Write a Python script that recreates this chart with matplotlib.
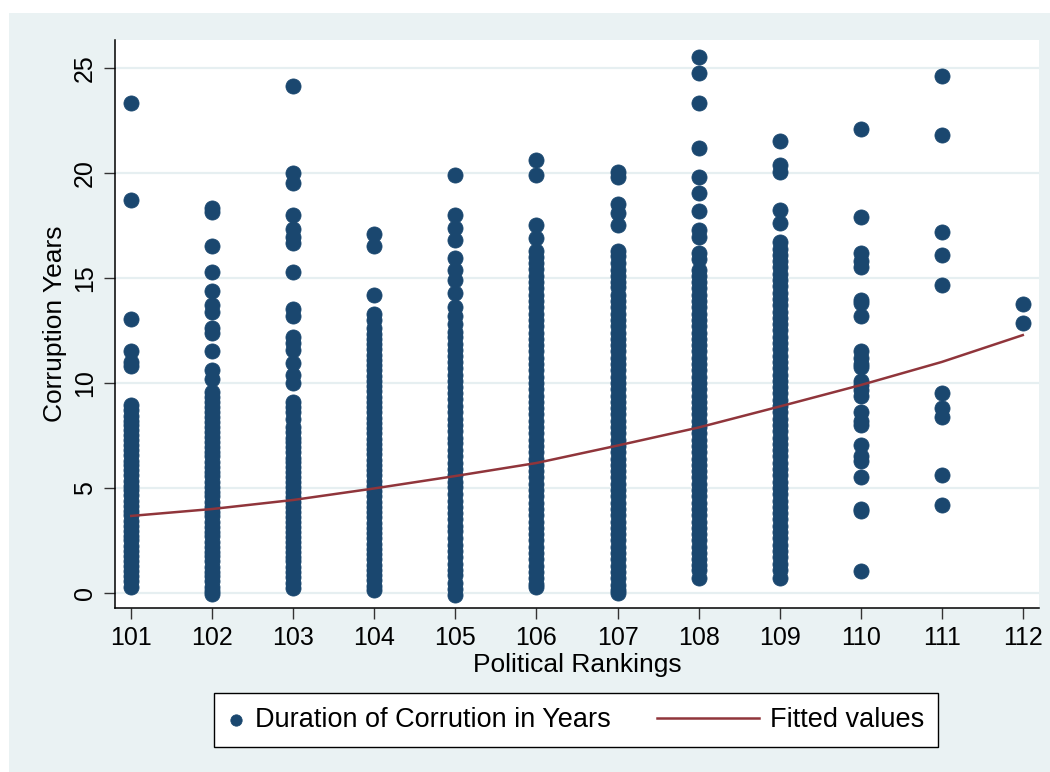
import numpy as np
import matplotlib.pyplot as plt
from matplotlib.patches import Rectangle
from matplotlib.legend_handler import HandlerPathCollection, HandlerLine2D

plt.rcParams['font.family'] = ['Liberation Sans', 'DejaVu Sans']

#---------------------------------------------
# corruption duration by political ranking
#---------------------------------------------
rankings = [101, 102, 103, 104, 105, 106, 107, 108, 109, 110, 111, 112]

years_101 = [23.35, 18.7, 13.05, 11.5, 11.0, 10.8,
             8.95, 8.7, 8.45, 8.2, 8.0, 7.75, 7.5, 7.3, 7.05, 6.8, 6.55, 6.3, 6.1, 5.85,
             5.6, 5.35, 5.1, 4.9, 4.65, 4.4, 4.15, 3.9, 3.7, 3.45, 3.2, 2.95, 2.7, 2.5,
             2.25, 2.0, 1.75, 1.5, 1.3, 1.05, 0.8, 0.55, 0.29]
years_102 = [18.33, 18.14, 16.5, 15.3, 14.4, 13.7, 13.4, 12.6, 12.4, 11.5, 10.6, 10.2,
             9.57, 9.35, 9.1, 8.85, 8.6, 8.4, 8.15, 7.9, 7.65, 7.45, 7.2, 6.95, 6.7, 6.5,
             6.25, 6.0, 5.75, 5.55, 5.3, 5.05, 4.8, 4.6, 4.35, 4.1, 3.85, 3.65, 3.4, 3.15,
             2.9, 2.7, 2.45, 2.2, 1.95, 1.75, 1.5, 1.25, 1.0, 0.8, 0.55, 0.3, 0.1, -0.05]
years_103 = [24.14, 20.0, 19.5, 18.0, 17.33, 16.95, 16.67, 15.3, 13.5, 13.2, 12.2, 11.9,
             11.57, 10.95, 10.4, 10.0,
             9.1, 8.85, 8.6, 8.3, 7.9, 7.65, 7.4, 7.2, 6.95, 6.7, 6.45, 6.25, 6.0, 5.75,
             5.5, 5.3, 5.05, 4.8, 4.55, 4.35, 4.1, 3.85, 3.6, 3.4, 3.15, 2.9, 2.65, 2.45,
             2.2, 1.95, 1.7, 1.5, 1.25, 1.0, 0.75, 0.5, 0.24]
years_104 = [17.1, 16.5, 14.2,
             13.3, 13.0, 12.6, 12.35, 12.1, 11.85, 11.6, 11.35, 11.1, 10.85, 10.6, 10.35,
             10.1, 9.85, 9.6, 9.35, 9.1, 8.85, 8.6, 8.35, 8.1, 7.85, 7.6, 7.35, 7.1, 6.85,
             6.6, 6.35, 6.1, 5.85, 5.6, 5.35, 5.1, 4.85, 4.6, 4.35, 4.1, 3.85, 3.6, 3.35,
             3.1, 2.85, 2.6, 2.35, 2.1, 1.85, 1.6, 1.35, 1.1, 0.85, 0.6, 0.35, 0.14]
years_105 = [19.9, 18.0, 17.4, 16.8, 15.95, 15.4, 14.9, 14.3, 13.6, 13.2, 12.8,
             12.45, 12.2, 11.85, 11.55, 11.3, 11.0, 10.7, 10.4, 10.1, 9.8, 9.5, 9.25,
             8.9, 8.6, 8.3, 8.0, 7.7, 7.4, 7.15, 6.8, 6.5, 6.2, 5.9, 5.6, 5.3, 5.05, 4.7,
             4.4, 4.1, 3.8, 3.5, 3.2, 2.95, 2.6, 2.3, 2.0, 1.7, 1.4, 1.1, 0.85, 0.5, 0.2,
             -0.1]
years_106 = [20.6, 19.9, 17.5, 16.9,
             16.3, 16.0, 15.7, 15.45, 15.1, 14.8, 14.5, 14.2, 13.9, 13.6, 13.3, 13.0,
             12.7, 12.4, 12.1, 11.8, 11.5, 11.2, 10.9, 10.6, 10.3, 10.0, 9.7, 9.4, 9.1,
             8.8, 8.5, 8.2, 7.9, 7.6, 7.3, 7.0, 6.7, 6.4, 6.1, 5.8, 5.5, 5.2, 4.9, 4.6,
             4.3, 4.0, 3.7, 3.4, 3.1, 2.8, 2.5, 2.2, 1.9, 1.6, 1.3, 1.0, 0.7, 0.45, 0.29]
years_107 = [20.05, 19.8, 18.5, 18.1, 17.5,
             16.3, 16.05, 15.7, 15.4, 15.1, 14.8, 14.55, 14.2, 13.9, 13.6, 13.3, 13.0,
             12.7, 12.4, 12.1, 11.8, 11.5, 11.2, 10.9, 10.6, 10.3, 10.0, 9.7, 9.4, 9.1,
             8.8, 8.5, 8.2, 7.9, 7.6, 7.3, 7.0, 6.7, 6.4, 6.1, 5.8, 5.5, 5.2, 4.9, 4.6,
             4.3, 4.0, 3.7, 3.4, 3.1, 2.8, 2.5, 2.2, 1.9, 1.6, 1.3, 1.0, 0.7, 0.4, 0.15,
             0.0]
years_108 = [25.5, 24.76, 23.33, 21.2, 19.8, 19.05, 18.2, 17.3, 16.95, 16.2, 15.9,
             15.4, 15.1, 14.8, 14.5, 14.2, 13.9, 13.6, 13.3, 13.0, 12.7, 12.4, 12.1,
             11.8, 11.5, 11.2, 10.9, 10.6, 10.3, 10.0, 9.7, 9.4, 9.1, 8.8, 8.5, 8.2, 7.9,
             7.6, 7.3, 7.0, 6.7, 6.4, 6.1, 5.8, 5.5, 5.2, 4.9, 4.6, 4.3, 4.0, 3.7, 3.4,
             3.1, 2.8, 2.5, 2.2, 1.9, 1.6, 1.35, 1.1, 0.7]
years_109 = [21.5, 20.4, 20.05, 18.25, 17.6,
             16.7, 16.4, 16.1, 15.8, 15.5, 15.2, 14.9, 14.6, 14.3, 14.0, 13.7, 13.4,
             13.1, 12.8, 12.5, 12.2, 11.9, 11.6, 11.3, 11.0, 10.7, 10.4, 10.1, 9.8, 9.5,
             9.2, 8.9, 8.6, 8.3, 8.0, 7.7, 7.4, 7.1, 6.8, 6.5, 6.2, 5.9, 5.6, 5.3, 5.0,
             4.7, 4.4, 4.1, 3.8, 3.5, 3.2, 2.9, 2.6, 2.3, 2.0, 1.7, 1.4, 1.1, 0.7]
years_110 = [22.1, 17.9, 16.2, 15.8, 15.5, 13.95, 13.8, 13.2, 11.5, 11.2, 10.9, 10.75,
             10.1, 9.9, 9.67, 9.4, 8.6, 8.2, 8.0, 7.05, 6.5, 6.3, 5.5, 4.0, 3.9, 1.05]
years_111 = [24.6, 21.8, 17.2, 16.1, 14.67, 9.5, 8.8, 8.4, 5.6, 4.2]
years_112 = [13.76, 12.86]

fitted = [3.67, 4.0, 4.43, 4.98, 5.57, 6.19, 7.02, 7.88, 8.88, 9.9, 11.0, 12.28]

all_years = [years_101, years_102, years_103, years_104, years_105, years_106,
             years_107, years_108, years_109, years_110, years_111, years_112]

x = np.concatenate([[r]*len(v) for r, v in zip(rankings, all_years)])
y = np.concatenate(all_years)


# legend handles: dot at the left, long line for the fit
class LeftDot(HandlerPathCollection):
    def get_xdata(self, legend, xdescent, ydescent, width, height, fontsize):
        xd = [-xdescent + width/2.]
        return xd, xd


class LongLine(HandlerLine2D):
    def __init__(self, length, **kw):
        HandlerLine2D.__init__(self, **kw)
        self.length = length

    def get_xdata(self, legend, xdescent, ydescent, width, height, fontsize):
        xd = np.array([-xdescent + width - self.length, -xdescent + width])
        return xd, xd


#---------------------------------
# Begin plot
#---------------------------------
W, H = 1050, 772
fig = plt.figure(figsize=(W/100., H/100.), dpi=100)
fig.patch.set_facecolor('white')
fig.add_artist(Rectangle((9./W, 0), 1, (H-13.)/H, transform=fig.transFigure,
                         facecolor='#EAF2F3', edgecolor='none', zorder=-5))

ax = fig.add_axes([115./W, 1-608./H, 924./W, 568./H])
ax.set_facecolor('white')

sc = ax.scatter(x, y, s=118, color='#1A476F', edgecolors='#1A476F',
                linewidths=0.6, zorder=3, label='Duration of Corrution in Years')
ln, = ax.plot(rankings, fitted, color='#90353B', lw=1.8, zorder=4,
              label='Fitted values')

ax.set_xlim(100.8, 112.2)
ax.set_ylim(-0.714, 26.33)
ax.set_xticks(rankings)
ax.set_yticks([0, 5, 10, 15, 20, 25])
ax.yaxis.grid(True, color='#E6EFF1', lw=1.6, zorder=0)
ax.set_axisbelow(True)

for s in ['top', 'right']:
    ax.spines[s].set_visible(False)
for s in ['left', 'bottom']:
    ax.spines[s].set_linewidth(1.1)
    ax.spines[s].set_color('black')

ax.tick_params(axis='both', length=8, width=1, color='#333333', labelsize=18,
               pad=5)
plt.setp(ax.get_yticklabels(), rotation=90, va='center')

ax.set_xlabel('Political Rankings', fontsize=19, va='center')
ax.set_ylabel('Corruption Years', fontsize=19, va='center')
ax.xaxis.set_label_coords(0.5, (608-665.)/568)
ax.yaxis.set_label_coords((55-115.)/924, 0.5)

leg = fig.legend([sc, ln], ['Duration of Corrution in Years', 'Fitted values'],
                 loc='center', bbox_to_anchor=(576./W, 1-720./H),
                 bbox_transform=fig.transFigure, ncol=2, fontsize=19.5,
                 handlelength=0.6, handletextpad=0.4, columnspacing=4.9,
                 borderpad=0.5, borderaxespad=0, markerscale=0.75, fancybox=False,
                 handler_map={sc: LeftDot(), ln: LongLine(74)})
leg.get_frame().set_edgecolor('black')
leg.get_frame().set_linewidth(1)
leg.get_frame().set_facecolor('white')
leg.get_frame().set_alpha(1)

plt.savefig('out.png', dpi=100)
